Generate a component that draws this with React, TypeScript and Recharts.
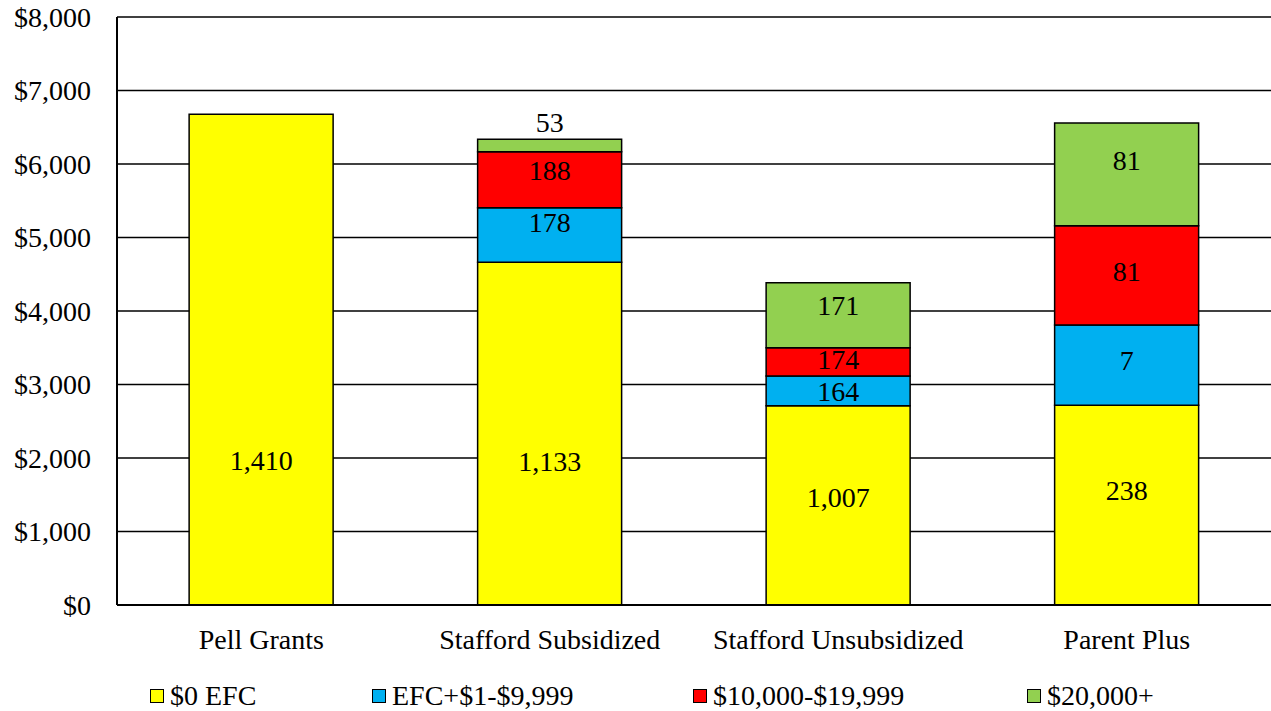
import { BarChart, Bar, XAxis, YAxis, CartesianGrid, LabelList } from "recharts";

const categories = ["Pell Grants", "Stafford Subsidized", "Stafford Unsubsidized", "Parent Plus"];

// average award ($) per EFC band
const efc0Amount = [6676, 4663, 2712, 2717];
const efcLowAmount = [0, 743, 404, 1093];
const efcMidAmount = [0, 762, 385, 1351];
const efcHighAmount = [0, 169, 884, 1397];

// number of students (shown as segment labels)
const efc0Count = [1410, 1133, 1007, 238];
const efcLowCount = [null, 178, 164, 7];
const efcMidCount = [null, 188, 174, 81];
const efcHighCount = [null, 53, 171, 81];

const yTicks = [0, 1000, 2000, 3000, 4000, 5000, 6000, 7000, 8000];

const FONT = '"Liberation Serif", "DejaVu Serif", "Times New Roman", Times, serif';

const series = [
  { key: "efc0", name: "$0 EFC", color: "#FFFF00", legendX: 150, nudge: [101, 28, -8, -15] },
  { key: "efcLow", name: "EFC+$1-$9,999", color: "#00B0F0", legendX: 372, nudge: [0, -12, 1, -5] },
  { key: "efcMid", name: "$10,000-$19,999", color: "#FF0000", legendX: 693, nudge: [0, -9, -2, -4] },
  { key: "efcHigh", name: "$20,000+", color: "#92D050", legendX: 1027, nudge: [0, -23, -10, -14] },
];

const data = categories.map((name, i) => ({
  name,
  efc0: efc0Amount[i],
  efcLow: efcLowAmount[i],
  efcMid: efcMidAmount[i],
  efcHigh: efcHighAmount[i],
  efc0Count: efc0Count[i],
  efcLowCount: efcLowCount[i],
  efcMidCount: efcMidCount[i],
  efcHighCount: efcHighCount[i],
}));

function makeLabel(nudge: number[]) {
  return function SegmentLabel(props: any) {
    const { x = 0, y = 0, width = 0, height = 0, value } = props;
    if (!value || value.count === null || value.count === undefined) return null;
    return (
      <text
        x={x + width / 2}
        y={y + height / 2 + (nudge[value.cat] ?? 0)}
        textAnchor="middle"
        dominantBaseline="central"
        fill="#000"
        fontSize={28}
        fontFamily={FONT}
      >
        {Number(value.count).toLocaleString("en-US")}
      </text>
    );
  };
}

export default function App() {
  return (
    <div style={{ position: "absolute", left: 0, top: 0, width: 1271, height: 711, background: "#fff", fontFamily: FONT }}>
      <BarChart
        width={1271}
        height={711}
        data={data}
        margin={{ top: 17, right: 0, left: 0, bottom: 0 }}
        barCategoryGap="25%"
      >
        <CartesianGrid vertical={false} stroke="#000" strokeWidth={1.5} />
        <XAxis
          dataKey="name"
          height={106}
          tickLine={false}
          tickSize={0}
          tickMargin={24}
          axisLine={{ stroke: "#000", strokeWidth: 2 }}
          tick={{ fill: "#000", fontSize: 28, fontFamily: FONT }}
        />
        <YAxis
          width={117}
          domain={[0, 8000]}
          ticks={yTicks}
          interval={0}
          tickLine={false}
          tickSize={0}
          tickMargin={26}
          axisLine={{ stroke: "#000", strokeWidth: 2 }}
          tick={{ fill: "#000", fontSize: 28, fontFamily: FONT }}
          tickFormatter={(v: number) => `$${v.toLocaleString("en-US")}`}
        />
        {series.map((s) => (
          <Bar
            key={s.key}
            dataKey={s.key}
            name={s.name}
            stackId="a"
            fill={s.color}
            stroke="#000"
            strokeWidth={1.5}
            isAnimationActive={false}
          >
            <LabelList
              dataKey={(d: any) => ({ cat: categories.indexOf(d.name), count: d[`${s.key}Count`] })}
              content={makeLabel(s.nudge)}
            />
          </Bar>
        ))}
      </BarChart>
      {series.map((s) => (
        <div
          key={s.key}
          style={{
            position: "absolute",
            left: s.legendX,
            top: 678,
            display: "flex",
            alignItems: "center",
            fontSize: 28,
            lineHeight: "36px",
            color: "#000",
            whiteSpace: "nowrap",
          }}
        >
          <span
            style={{
              display: "inline-block",
              width: 12,
              height: 12,
              background: s.color,
              border: "1.5px solid #000",
              marginRight: 6,
            }}
          />
          {s.name}
        </div>
      ))}
    </div>
  );
}
